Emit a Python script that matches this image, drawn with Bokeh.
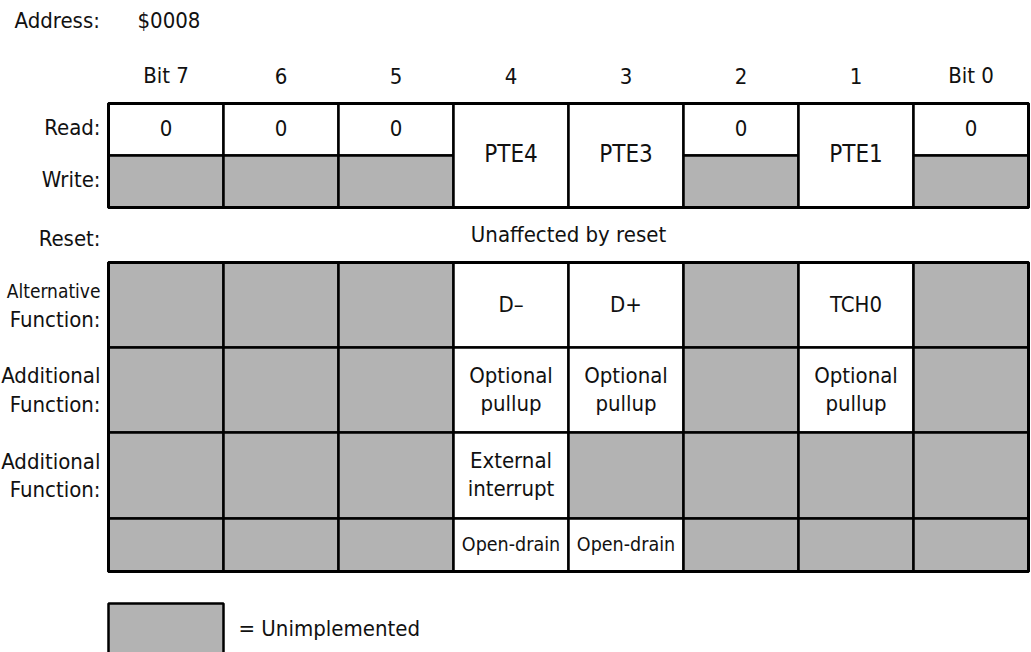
from bokeh.plotting import figure
from bokeh.models import Range1d
from bokeh.core.properties import value
from bokeh.embed import file_html
from bokeh.resources import INLINE

# ---------------- data ----------------
address_label = "Address:"
address_value = "$0008"
bit_labels = ["Bit 7", "6", "5", "4", "3", "2", "1", "Bit 0"]
read_values = ["0", "0", "0", "PTE4", "PTE3", "0", "PTE1", "0"]
read_write_merged = [False, False, False, True, True, False, True, False]
reset_text = "Unaffected by reset"
alt_function = ["", "", "", "D–", "D+", "", "TCH0", ""]
add_function_1 = ["", "", "", "Optional\npullup", "Optional\npullup", "", "Optional\npullup", ""]
add_function_2 = ["", "", "", "External\ninterrupt", "", "", "", ""]
output_type = ["", "", "", "Open-drain", "Open-drain", "", "", ""]
row_labels = ["Read:", "Write:", "Reset:", "Alternative\nFunction:",
              "Additional\nFunction:", "Additional\nFunction:", ""]
legend_text = "= Unimplemented"

# ---------------- layout (pixels) ----------------
FONT = value("DejaVu Sans Condensed")
FS = "22px"
GRAY = "#b3b3b3"
X0, CW = 108, 115
LABEL_X = 100
read_top, read_bot, write_bot = 103, 155, 207
func_rows = [(262, 347), (347, 432), (432, 518), (518, 571)]

p = figure(width=1031, height=652, output_backend="svg", toolbar_location=None,
           x_range=Range1d(0, 1031), y_range=Range1d(652, 0),
           min_border=0, outline_line_color=None)
p.axis.visible = False
p.grid.visible = False

def txt(xs, ys, texts, size=FS, align="center"):
    p.text(x=xs, y=ys, text=texts, text_font=FONT, text_font_size=size,
           text_align=align, text_baseline="middle", text_color="#111111")

def multiline(x, yc, s, size=FS, align="center", gap=28):
    lines = s.split("\n")
    n = len(lines)
    for i, ln in enumerate(lines):
        txt([x], [yc + (i - (n - 1) / 2) * gap], [ln], size, align)

# header
txt([14], [20], [address_label], FS, "left")
txt([137], [20], [address_value], FS, "left")
txt([X0 + CW * (i + 0.5) for i in range(8)], [75] * 8, bit_labels)

# read / write rows
for i in range(8):
    l, r = X0 + CW * i, X0 + CW * (i + 1)
    cx = (l + r) / 2
    if read_write_merged[i]:
        p.quad(left=[l], right=[r], top=[read_top], bottom=[write_bot],
               fill_color="white", line_color="black", line_width=2.5)
        txt([cx], [153], [read_values[i]], "24px")
    else:
        p.quad(left=[l], right=[r], top=[read_top], bottom=[read_bot],
               fill_color="white", line_color="black", line_width=2.5)
        p.quad(left=[l], right=[r], top=[read_bot], bottom=[write_bot],
               fill_color=GRAY, line_color="black", line_width=2.5)
        txt([cx], [127], [read_values[i]])
p.quad(left=[X0], right=[X0 + 8 * CW], top=[read_top], bottom=[write_bot],
       fill_color=None, line_color="black", line_width=3)

txt([LABEL_X], [127], [row_labels[0]], FS, "right")
txt([LABEL_X], [179], [row_labels[1]], FS, "right")
txt([LABEL_X], [238], [row_labels[2]], FS, "right")
txt([(X0 + X0 + 8 * CW) / 2], [234], [reset_text])

# function rows
rows = [alt_function, add_function_1, add_function_2, output_type]
sizes = [FS, FS, FS, "19.5px"]
for (top, bot), vals, size in zip(func_rows, rows, sizes):
    for i, v in enumerate(vals):
        l, r = X0 + CW * i, X0 + CW * (i + 1)
        p.quad(left=[l], right=[r], top=[top], bottom=[bot],
               fill_color=("white" if v else GRAY), line_color="black", line_width=2.5)
        if v:
            multiline((l + r) / 2, (top + bot) / 2 - 1, v, size)
p.quad(left=[X0], right=[X0 + 8 * CW], top=[func_rows[0][0]], bottom=[func_rows[-1][1]],
       fill_color=None, line_color="black", line_width=3)

# row labels for function rows
for (top, bot), lab in zip(func_rows[:3], row_labels[3:6]):
    parts = lab.split("\n")
    yc = (top + bot) / 2
    sz0 = "19px" if parts[0] == "Alternative" else FS
    txt([LABEL_X], [yc - 14.5], [parts[0]], sz0, "right")
    txt([LABEL_X], [yc + 14], [parts[1]], FS, "right")

# legend
p.quad(left=[X0], right=[X0 + CW], top=[603], bottom=[670],
       fill_color=GRAY, line_color="black", line_width=2.5)
txt([238], [628], [legend_text], FS, "left")

open("out.html", "w").write(file_html(p, INLINE))
